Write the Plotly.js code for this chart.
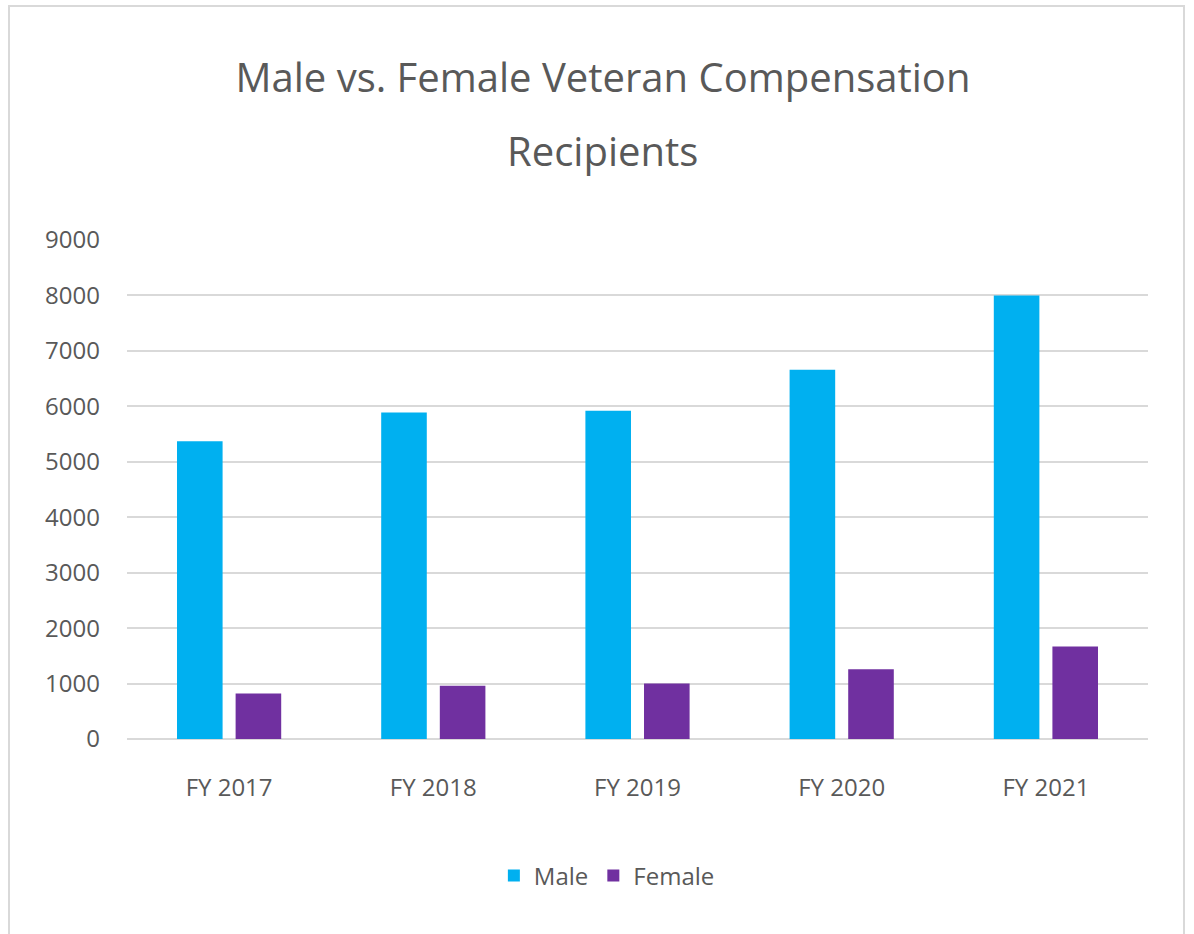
<!DOCTYPE html>
<html>
<head>
<meta charset="utf-8">
<script src="https://cdn.plot.ly/plotly-3.0.1.min.js"></script>
<style>
html,body{margin:0;padding:0;background:#fff;}
#frame{position:absolute;left:8px;top:5px;width:1177px;height:940px;border:2px solid #d9d9d9;border-bottom:none;box-sizing:border-box;}
#chart{position:absolute;left:0;top:0;width:1194px;height:934px;}
</style>
</head>
<body>
<div id="frame"></div>
<div id="chart"></div>
<script>
const categories = ["FY 2017", "FY 2018", "FY 2019", "FY 2020", "FY 2021"];
const maleValues = [5370, 5890, 5920, 6660, 8000];
const femaleValues = [820, 960, 1000, 1260, 1670];
const yTicks = [0, 1000, 2000, 3000, 4000, 5000, 6000, 7000, 8000, 9000];
const titleLine1 = "Male vs. Female Veteran Compensation";
const titleLine2 = "Recipients";

const fontFam = "Open Sans, sans-serif";
const grey = "#595959";
const traces = [
  {type: "bar", name: "Male", x: categories, y: maleValues, marker: {color: "#00b0f0"}},
  {type: "bar", name: "Female", x: categories, y: femaleValues, marker: {color: "#7030a0"}}
];
const layout = {
  width: 1194, height: 934,
  paper_bgcolor: "rgba(0,0,0,0)", plot_bgcolor: "rgba(0,0,0,0)",
  margin: {l: 127, r: 46, t: 240, b: 195},
  title: {text: titleLine1, x: 0.505, xanchor: "center", y: 1 - 78/934, yanchor: "middle",
          font: {family: fontFam, size: 40, color: grey}},
  annotations: [{text: titleLine2, xref: "paper", yref: "paper", x: 0.466, xanchor: "center",
                 y: (934 - 195 - 150) / (934 - 240 - 195), yanchor: "middle", showarrow: false,
                 font: {family: fontFam, size: 40, color: grey}}],
  barmode: "group", bargap: 0.426, bargroupgap: 0.222,
  xaxis: {tickfont: {family: fontFam, size: 24, color: grey}, ticks: "", showline: false, ticklabelstandoff: 32},
  yaxis: {range: [0, 9000], tickvals: yTicks, ticktext: yTicks.map(String),
          tickfont: {family: fontFam, size: 24, color: grey},
          gridcolor: "#d9d9d9", gridwidth: 2, zeroline: true, zerolinecolor: "#d9d9d9", zerolinewidth: 2,
          showline: false, ticks: "", ticklabelstandoff: 26},
  showlegend: true,
  legend: {orientation: "h", x: 0.47, xanchor: "center", y: (934 - 195 - 876) / (934 - 240 - 195), yanchor: "middle",
           font: {family: fontFam, size: 24, color: grey}, itemwidth: 30}
};
Plotly.newPlot("chart", traces, layout, {displayModeBar: false});
</script>
</body>
</html>
